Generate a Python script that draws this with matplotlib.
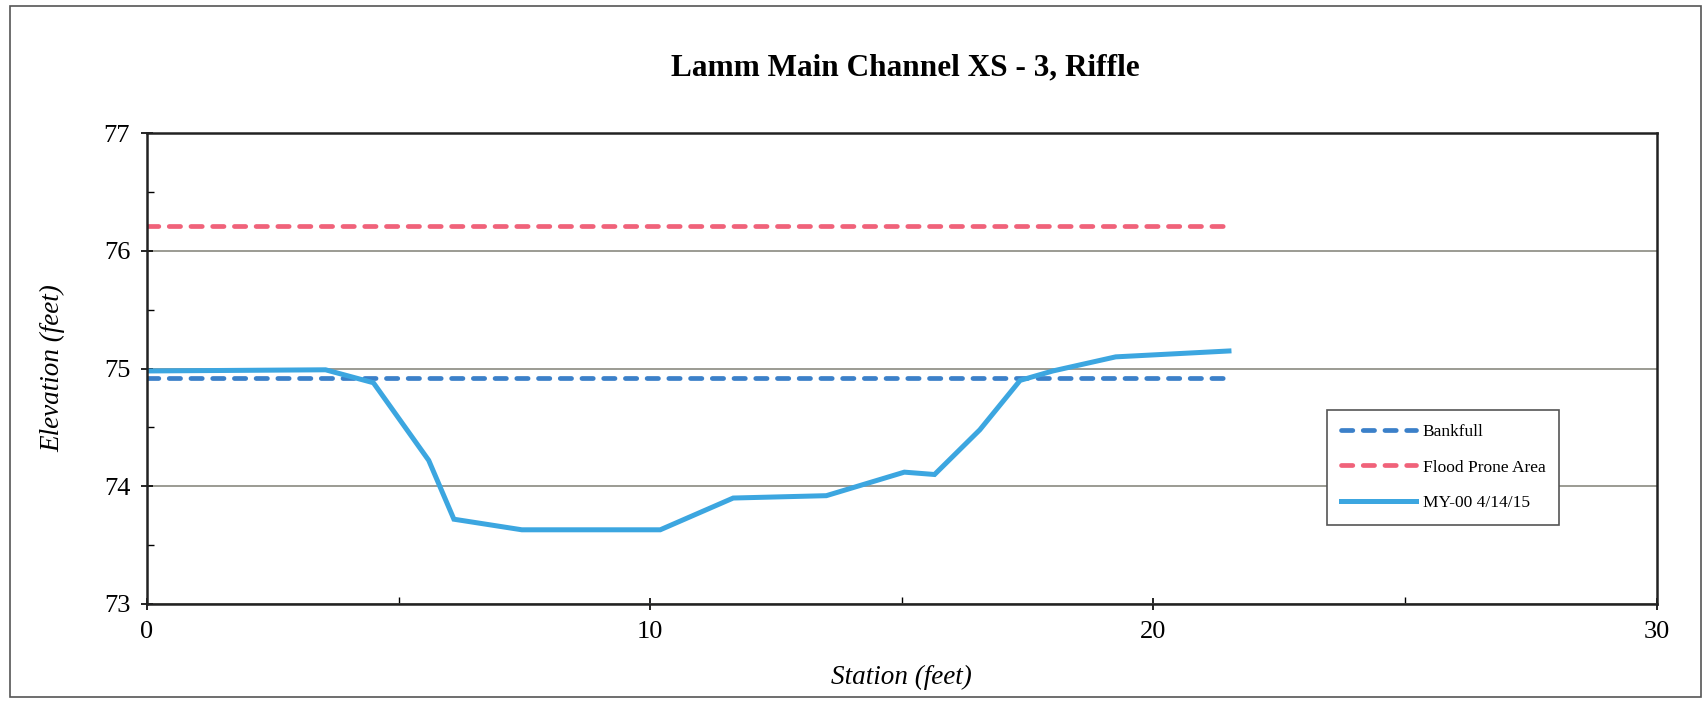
import numpy as np
import matplotlib.pyplot as plt
from matplotlib.patches import Rectangle

plt.rcParams["font.family"] = ["Liberation Serif", "DejaVu Serif"]

# surveyed cross section, MY-00 4/14/15
station = [0.0, 3.55, 4.5, 5.6, 6.1, 7.45, 10.2, 11.65, 13.5, 15.05, 15.65,
           16.55, 17.35, 18.0, 19.25, 21.5]
elevation = [74.98, 74.99, 74.88, 74.22, 73.72, 73.63, 73.63, 73.9, 73.92,
             74.12, 74.1, 74.48, 74.9, 74.98, 75.1, 75.15]

# bankfull and flood prone area elevations
level_station = [0.0, 21.5]
bankfull = [74.92, 74.92]
flood_prone = [76.21, 76.21]

fig = plt.figure(figsize=(17.08, 7.13), dpi=100)
ax = fig.add_axes([0.086, 0.153, 0.884, 0.660])

dash = dict(linewidth=3.4, dashes=(2.4, 2.2), dash_capstyle="round")
ax.plot(level_station, bankfull, color="#3b80c9", label="Bankfull", **dash)
ax.plot(level_station, flood_prone, color="#f0627a", label="Flood Prone Area", **dash)
ax.plot(station, elevation, color="#3ca6e0", linewidth=3.6,
        solid_joinstyle="miter", label="MY-00 4/14/15")

ax.set_xlim(0, 30)
ax.set_ylim(73, 77)
ax.set_xticks([0, 10, 20, 30])
ax.set_xticks([5, 15, 25], minor=True)
ax.set_yticks([73, 74, 75, 76, 77])
ax.set_yticks([73.5, 74.5, 75.5, 76.5], minor=True)
ax.grid(axis="y", color="#8a8a80", linewidth=1.2)
ax.set_axisbelow(True)
ax.tick_params(which="major", direction="inout", length=8, width=1.2,
               labelsize=19, pad=8)
ax.tick_params(which="minor", direction="in", length=5, width=1.0)
for side in ["left", "bottom", "top", "right"]:
    ax.spines[side].set_linewidth(1.8)
    ax.spines[side].set_color("#222222")

ax.set_xlabel("Station (feet)", fontsize=19.5, style="italic", labelpad=16)
ax.set_ylabel("Elevation (feet)", fontsize=19.5, style="italic", labelpad=28)
fig.text(0.53, 0.905, "Lamm Main Channel XS - 3, Riffle", fontsize=22.5,
         fontweight="bold", ha="center", va="center")

leg = ax.legend(loc="upper left", bbox_to_anchor=(0.776, 0.43), fontsize=12.5,
                handlelength=4.3, labelspacing=1.1, borderpad=0.8,
                fancybox=False, framealpha=1, edgecolor="#555555",
                handletextpad=0.4)
leg.get_frame().set_linewidth(1.2)

# border around the whole chart
fig.patches.append(Rectangle((0.006, 0.022), 0.99, 0.97, transform=fig.transFigure,
                             fill=False, edgecolor="#555555", linewidth=1.2))

fig.savefig("out.png")
